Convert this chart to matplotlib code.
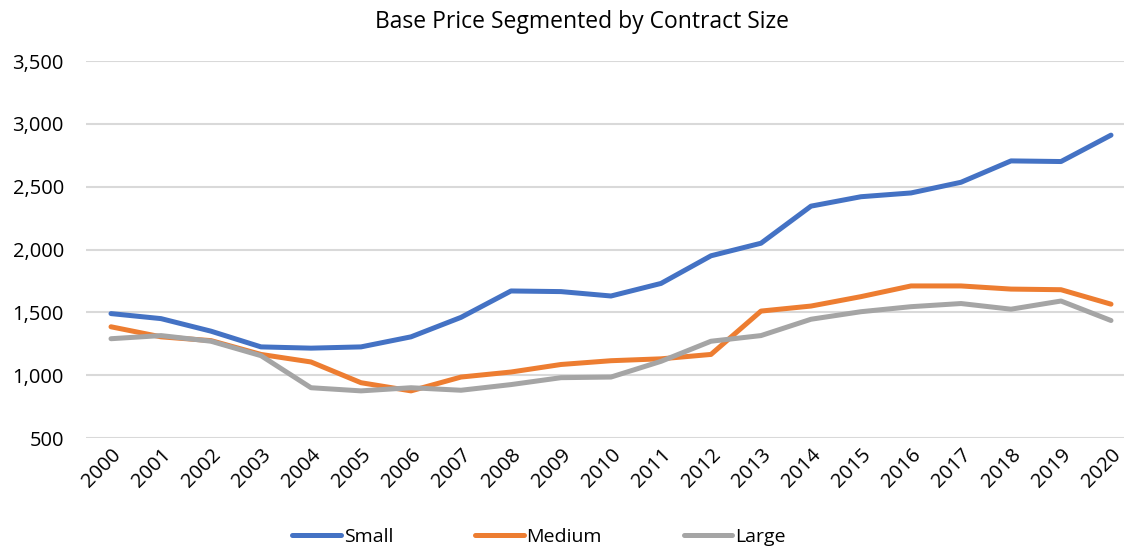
import matplotlib
matplotlib.use("Agg")
import matplotlib.pyplot as plt
from matplotlib.ticker import FuncFormatter

years = [str(y) for y in range(2000, 2021)]
small = [1490, 1450, 1350, 1225, 1215, 1225, 1305, 1460, 1670, 1665, 1630, 1730,
         1950, 2050, 2345, 2420, 2450, 2535, 2705, 2700, 2910]
medium = [1385, 1305, 1275, 1165, 1105, 940, 875, 985, 1025, 1085, 1115, 1130,
          1165, 1510, 1550, 1625, 1710, 1710, 1685, 1680, 1565]
large = [1290, 1315, 1270, 1155, 900, 875, 900, 880, 925, 980, 985, 1110,
         1270, 1315, 1445, 1505, 1545, 1570, 1525, 1590, 1435]
yticks = [500, 1000, 1500, 2000, 2500, 3000, 3500]

plt.rcParams['font.family'] = ['Open Sans', 'DejaVu Sans']

W, H = 1124, 551
fig = plt.figure(figsize=(W / 100, H / 100), dpi=100)
ax = fig.add_axes([86 / W, 1 - 438 / H, (1136 - 86) / W, (438 - 61) / H])

x = list(range(len(years)))
for vals, col, lab in [(small, '#4472C4', 'Small'), (medium, '#ED7D31', 'Medium'),
                       (large, '#A5A5A5', 'Large')]:
    ax.plot(x, vals, color=col, lw=3.6, solid_capstyle='round',
            solid_joinstyle='round', label=lab, zorder=3)

ax.set_xlim(-0.5, len(years) - 0.5)
ax.set_ylim(500, 3500)
ax.set_yticks(yticks)
ax.yaxis.set_major_formatter(FuncFormatter(lambda v, p: f"{int(v):,}"))
ax.set_xticks(x)
ax.set_xticklabels(years, rotation=45, ha='right', rotation_mode='anchor')
ax.grid(axis='y', color='#d9d9d9', lw=1.5, zorder=0)
ax.set_axisbelow(True)
for s in ax.spines.values():
    s.set_visible(False)
ax.tick_params(axis='both', length=0, labelsize=14.5, colors='#000000')
ax.tick_params(axis='y', pad=16)
ax.tick_params(axis='x', pad=5)

fig.text(582 / W, 1 - 22 / H, 'Base Price Segmented by Contract Size', ha='center', va='center',
         fontsize=16.5)

leg = fig.legend(loc='center', bbox_to_anchor=(539 / W, 1 - 537 / H), ncol=3, frameon=False,
                 fontsize=14, handlelength=2.5, handletextpad=0.15, columnspacing=4.2)
for h in leg.get_lines():
    h.set_linewidth(3.6)
    h.set_solid_capstyle('round')

fig.savefig('out.png', dpi=100)
